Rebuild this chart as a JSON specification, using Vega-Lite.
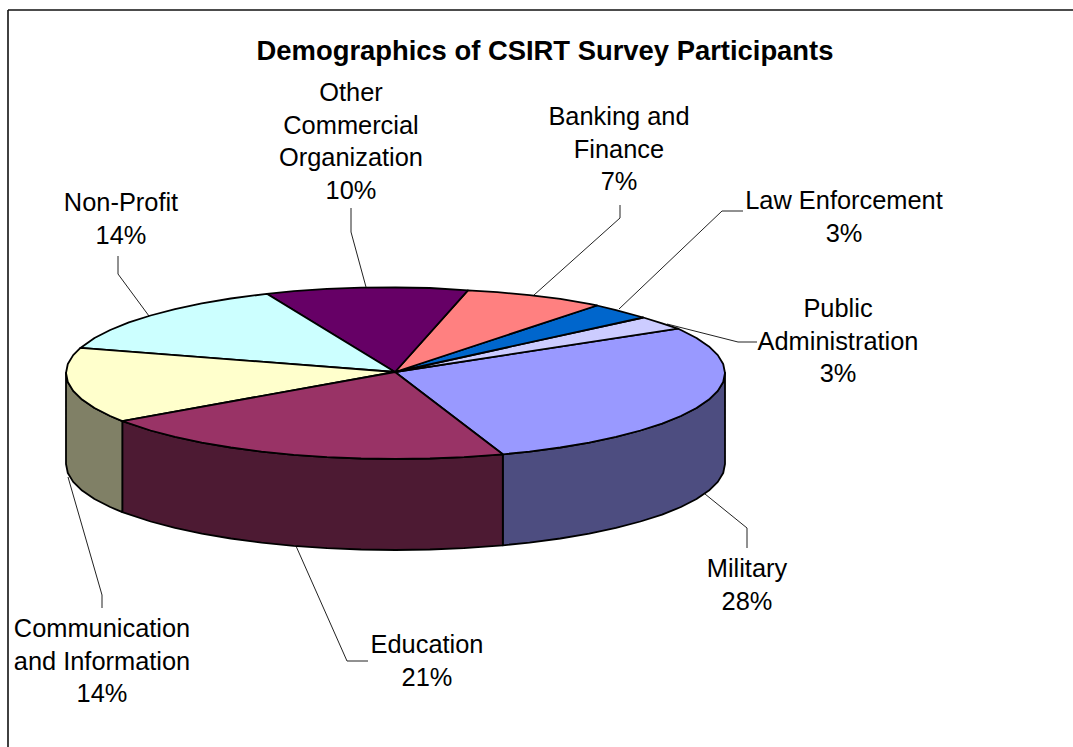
{
  "$schema": "https://vega.github.io/schema/vega-lite/v6.json",
  "width": 1073,
  "height": 747,
  "autosize": {"type": "fit", "contains": "padding"},
  "padding": 0,
  "background": "white",
  "view": {"stroke": null},
  "datasets": {
    "slices": [
      {"part":"Military side","x":502.8,"y":454.3},{"part":"Military side","x":529.5,"y":451.6},{"part":"Military side","x":560.3,"y":447.5},{"part":"Military side","x":589.2,"y":442.6},{"part":"Military side","x":616.0,"y":436.9},{"part":"Military side","x":640.4,"y":430.5},{"part":"Military side","x":662.1,"y":423.6},{"part":"Military side","x":680.9,"y":416.0},{"part":"Military side","x":696.5,"y":408.0},{"part":"Military side","x":708.9,"y":399.6},{"part":"Military side","x":717.8,"y":390.9},{"part":"Military side","x":723.2,"y":382.0},{"part":"Military side","x":725.0,"y":373.0},
      {"part":"Military side","x":725.0,"y":464.0},{"part":"Military side","x":723.2,"y":473.0},{"part":"Military side","x":717.8,"y":481.9},{"part":"Military side","x":708.9,"y":490.6},{"part":"Military side","x":696.5,"y":499.0},{"part":"Military side","x":680.9,"y":507.0},{"part":"Military side","x":662.1,"y":514.6},{"part":"Military side","x":640.4,"y":521.5},{"part":"Military side","x":616.0,"y":527.9},{"part":"Military side","x":589.2,"y":533.6},{"part":"Military side","x":560.3,"y":538.5},{"part":"Military side","x":529.5,"y":542.6},{"part":"Military side","x":502.8,"y":545.3},

      {"part":"Education side","x":122.3,"y":421.1},{"part":"Education side","x":150.6,"y":430.5},{"part":"Education side","x":175.0,"y":436.9},{"part":"Education side","x":201.8,"y":442.6},{"part":"Education side","x":230.8,"y":447.5},{"part":"Education side","x":261.5,"y":451.6},{"part":"Education side","x":293.7,"y":454.8},{"part":"Education side","x":327.0,"y":457.1},{"part":"Education side","x":361.1,"y":458.5},{"part":"Education side","x":395.5,"y":459.0},{"part":"Education side","x":429.9,"y":458.5},{"part":"Education side","x":464.0,"y":457.1},{"part":"Education side","x":502.8,"y":454.3},
      {"part":"Education side","x":502.8,"y":545.3},{"part":"Education side","x":464.0,"y":548.1},{"part":"Education side","x":429.9,"y":549.5},{"part":"Education side","x":395.5,"y":550.0},{"part":"Education side","x":361.1,"y":549.5},{"part":"Education side","x":327.0,"y":548.1},{"part":"Education side","x":293.7,"y":545.8},{"part":"Education side","x":261.5,"y":542.6},{"part":"Education side","x":230.8,"y":538.5},{"part":"Education side","x":201.8,"y":533.6},{"part":"Education side","x":175.0,"y":527.9},{"part":"Education side","x":150.6,"y":521.5},{"part":"Education side","x":122.3,"y":512.1},

      {"part":"Communication side","x":66.0,"y":373.0},{"part":"Communication side","x":67.8,"y":382.0},{"part":"Communication side","x":73.2,"y":390.9},{"part":"Communication side","x":82.1,"y":399.6},{"part":"Communication side","x":94.5,"y":408.0},{"part":"Communication side","x":110.2,"y":416.0},{"part":"Communication side","x":122.3,"y":421.1},
      {"part":"Communication side","x":122.3,"y":512.1},{"part":"Communication side","x":110.2,"y":507.0},{"part":"Communication side","x":94.5,"y":499.0},{"part":"Communication side","x":82.1,"y":490.6},{"part":"Communication side","x":73.2,"y":481.9},{"part":"Communication side","x":67.8,"y":473.0},{"part":"Communication side","x":66.0,"y":464.0},

      {"part":"Military","x":395,"y":372},{"part":"Military","x":502.8,"y":454.3},{"part":"Military","x":529.5,"y":451.6},{"part":"Military","x":560.3,"y":447.5},{"part":"Military","x":589.2,"y":442.6},{"part":"Military","x":616.0,"y":436.9},{"part":"Military","x":640.4,"y":430.5},{"part":"Military","x":662.1,"y":423.6},{"part":"Military","x":680.9,"y":416.0},{"part":"Military","x":696.5,"y":408.0},{"part":"Military","x":708.9,"y":399.6},{"part":"Military","x":717.8,"y":390.9},{"part":"Military","x":723.2,"y":382.0},{"part":"Military","x":725.0,"y":373.0},{"part":"Military","x":723.2,"y":364.0},{"part":"Military","x":717.8,"y":355.1},{"part":"Military","x":708.9,"y":346.4},{"part":"Military","x":696.5,"y":338.0},{"part":"Military","x":680.9,"y":330.0},{"part":"Military","x":677.9,"y":328.7},

      {"part":"Public Administration","x":395,"y":372},{"part":"Public Administration","x":677.9,"y":328.7},{"part":"Public Administration","x":662.1,"y":323.4},{"part":"Public Administration","x":643.3,"y":317.5},

      {"part":"Law Enforcement","x":395,"y":372},{"part":"Law Enforcement","x":643.3,"y":317.5},{"part":"Law Enforcement","x":616.0,"y":310.1},{"part":"Law Enforcement","x":597.0,"y":305.5},

      {"part":"Banking and Finance","x":395,"y":372},{"part":"Banking and Finance","x":597.0,"y":305.5},{"part":"Banking and Finance","x":589.2,"y":303.8},{"part":"Banking and Finance","x":560.3,"y":298.8},{"part":"Banking and Finance","x":529.5,"y":295.2},{"part":"Banking and Finance","x":497.3,"y":292.2},{"part":"Banking and Finance","x":467.9,"y":290.4},

      {"part":"Other Commercial Organization","x":395,"y":372},{"part":"Other Commercial Organization","x":467.9,"y":290.4},{"part":"Other Commercial Organization","x":429.9,"y":288.0},{"part":"Other Commercial Organization","x":395.5,"y":287.5},{"part":"Other Commercial Organization","x":361.1,"y":287.7},{"part":"Other Commercial Organization","x":327.0,"y":288.9},{"part":"Other Commercial Organization","x":293.7,"y":291.2},{"part":"Other Commercial Organization","x":266.8,"y":293.8},

      {"part":"Non-Profit","x":395,"y":372},{"part":"Non-Profit","x":266.8,"y":293.8},{"part":"Non-Profit","x":230.8,"y":298.5},{"part":"Non-Profit","x":201.8,"y":303.4},{"part":"Non-Profit","x":175.0,"y":309.1},{"part":"Non-Profit","x":150.6,"y":315.5},{"part":"Non-Profit","x":128.9,"y":322.4},{"part":"Non-Profit","x":110.2,"y":330.0},{"part":"Non-Profit","x":94.5,"y":338.0},{"part":"Non-Profit","x":80.4,"y":347.9},

      {"part":"Communication and Information","x":395,"y":372},{"part":"Communication and Information","x":80.4,"y":347.9},{"part":"Communication and Information","x":73.2,"y":355.1},{"part":"Communication and Information","x":67.8,"y":364.0},{"part":"Communication and Information","x":66.0,"y":373.0},{"part":"Communication and Information","x":67.8,"y":382.0},{"part":"Communication and Information","x":73.2,"y":390.9},{"part":"Communication and Information","x":82.1,"y":399.6},{"part":"Communication and Information","x":94.5,"y":408.0},{"part":"Communication and Information","x":110.2,"y":416.0},{"part":"Communication and Information","x":122.3,"y":421.1},

      {"part":"Education","x":395,"y":372},{"part":"Education","x":122.3,"y":421.1},{"part":"Education","x":150.6,"y":430.5},{"part":"Education","x":175.0,"y":436.9},{"part":"Education","x":201.8,"y":442.6},{"part":"Education","x":230.8,"y":447.5},{"part":"Education","x":261.5,"y":451.6},{"part":"Education","x":293.7,"y":454.8},{"part":"Education","x":327.0,"y":457.1},{"part":"Education","x":361.1,"y":458.5},{"part":"Education","x":395.5,"y":459.0},{"part":"Education","x":429.9,"y":458.5},{"part":"Education","x":464.0,"y":457.1},{"part":"Education","x":502.8,"y":454.3}
    ],
    "leaders": [
      {"label":"Non-Profit","x":118,"y":256},{"label":"Non-Profit","x":118,"y":274},{"label":"Non-Profit","x":149,"y":316},
      {"label":"Other","x":351,"y":208},{"label":"Other","x":351,"y":232},{"label":"Other","x":366,"y":287},
      {"label":"Banking","x":620,"y":205},{"label":"Banking","x":620,"y":218},{"label":"Banking","x":534,"y":295},
      {"label":"Law","x":743,"y":211},{"label":"Law","x":722,"y":211},{"label":"Law","x":619,"y":309},
      {"label":"Public","x":757,"y":342},{"label":"Public","x":738,"y":342},{"label":"Public","x":667,"y":324},
      {"label":"Military","x":747,"y":548},{"label":"Military","x":747,"y":528},{"label":"Military","x":705,"y":494},
      {"label":"Education","x":368,"y":661},{"label":"Education","x":347,"y":661},{"label":"Education","x":296,"y":546},
      {"label":"Communication","x":102,"y":608},{"label":"Communication","x":102,"y":595},{"label":"Communication","x":68,"y":477}
    ],
    "labels": [
      {"text":"Other\nCommercial\nOrganization\n10%","x":351,"y":93},
      {"text":"Banking and\nFinance\n7%","x":619,"y":117},
      {"text":"Law Enforcement\n3%","x":844,"y":201},
      {"text":"Public\nAdministration\n3%","x":838,"y":309},
      {"text":"Military\n28%","x":747,"y":569},
      {"text":"Education\n21%","x":427,"y":645},
      {"text":"Communication\nand Information\n14%","x":102,"y":629},
      {"text":"Non-Profit\n14%","x":121,"y":203}
    ],
    "heading": [
      {"text":"Demographics of CSIRT Survey Participants","x":545,"y":52}
    ],
    "frame": [
      {"edge":"top","x":8,"y":10},{"edge":"top","x":1073,"y":10},
      {"edge":"left","x":8,"y":10},{"edge":"left","x":8,"y":747}
    ]
  },
  "encoding": {
    "x": {"field": "x", "type": "quantitative", "axis": null, "scale": {"domain": [0, 1073], "nice": false, "zero": false}},
    "y": {"field": "y", "type": "quantitative", "axis": null, "scale": {"domain": [747, 0], "nice": false, "zero": false}}
  },
  "layer": [
    {
      "data": {"name": "frame"},
      "mark": {"type": "line", "stroke": "#111111", "strokeWidth": 1.6, "clip": true},
      "encoding": {"detail": {"field": "edge"}, "order": {"value": null}}
    },
    {
      "data": {"name": "leaders"},
      "mark": {"type": "line", "stroke": "#222222", "strokeWidth": 1},
      "encoding": {"detail": {"field": "label"}, "order": {"value": null}}
    },
    {
      "data": {"name": "slices"},
      "mark": {"type": "line", "interpolate": "linear-closed", "stroke": "black", "strokeWidth": 1.8, "strokeJoin": "round"},
      "encoding": {
        "detail": {"field": "part"},
        "order": {"value": null},
        "fill": {
          "field": "part",
          "type": "nominal",
          "legend": null,
          "scale": {
            "domain": ["Military side","Education side","Communication side","Military","Public Administration","Law Enforcement","Banking and Finance","Other Commercial Organization","Non-Profit","Communication and Information","Education"],
            "range": ["#4D4D80","#4D1A33","#808066","#9999FF","#CCCCFF","#0066CC","#FF8080","#660066","#CCFFFF","#FFFFCC","#993366"]
          }
        }
      }
    },
    {
      "data": {"name": "labels"},
      "mark": {"type": "text", "font": "Liberation Sans", "fontSize": 25.4, "lineHeight": 32.7, "lineBreak": "\n", "align": "center", "baseline": "middle", "color": "black"},
      "encoding": {"text": {"field": "text", "type": "nominal"}}
    },
    {
      "data": {"name": "heading"},
      "mark": {"type": "text", "font": "Liberation Sans", "fontSize": 27.4, "fontWeight": "bold", "align": "center", "baseline": "middle", "color": "black"},
      "encoding": {"text": {"field": "text", "type": "nominal"}}
    }
  ]
}
